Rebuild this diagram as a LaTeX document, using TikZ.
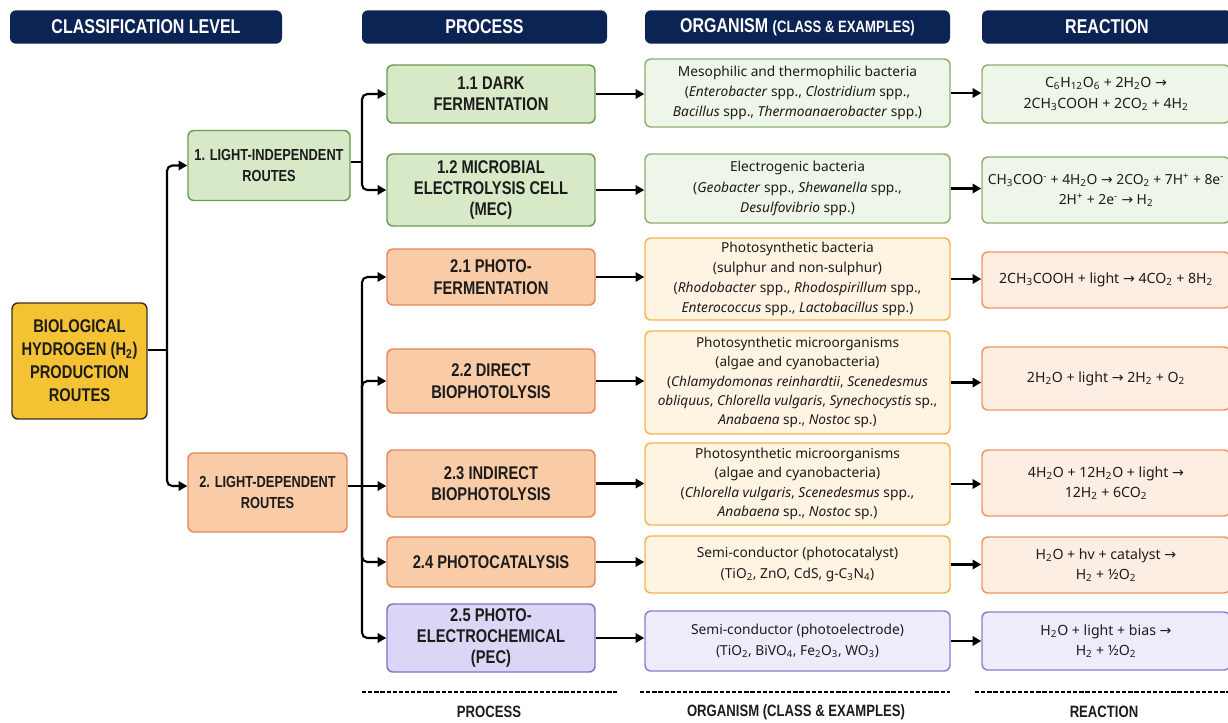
\documentclass[tikz,border=0pt]{standalone}
\usepackage{fontspec}
\setmainfont{Noto Sans}
\newfontfamily\cond[FakeStretch=0.8]{Liberation Sans}
\newfontfamily\dvfont{DejaVu Sans}
\usetikzlibrary{arrows.meta,calc}
\definecolor{navy}{HTML}{0C2454}
\definecolor{rootfill}{HTML}{F5C233}
\definecolor{rootdraw}{HTML}{3B3320}
\definecolor{pgfill}{HTML}{D7E9C6}
\definecolor{pgdraw}{HTML}{6B9A52}
\definecolor{ogfill}{HTML}{EEF5E9}
\definecolor{ogdraw}{HTML}{8DB06F}
\definecolor{pofill}{HTML}{F9CBA7}
\definecolor{podraw}{HTML}{E5855A}
\definecolor{oofill}{HTML}{FFF3E2}
\definecolor{oodraw}{HTML}{F2B54E}
\definecolor{rofill}{HTML}{FDEEE3}
\definecolor{rodraw}{HTML}{EF9461}
\definecolor{ppfill}{HTML}{DCD5F5}
\definecolor{ppdraw}{HTML}{8270C7}
\definecolor{opfill}{HTML}{EFEBFB}
\definecolor{opdraw}{HTML}{8C7DD0}
\definecolor{txt}{HTML}{1C1C1C}
\newcommand\sbs[1]{\textsubscript{#1}}
\newcommand\sps[1]{\textsuperscript{#1}}
\newcommand\ra{{\dvfont →}}
\tikzset{
  box/.style={draw, rounded corners=4.5pt, line width=1.1pt, align=center, inner sep=0pt, text=txt},
  hdr/.style={box, draw=none, fill=navy, text=white, font=\cond\bfseries\fontsize{15}{17}\selectfont, minimum height=25pt},
  lvl/.style={box, font=\cond\bfseries\fontsize{12}{16}\selectfont},
  proc/.style={box, font=\cond\bfseries\fontsize{13.8}{16}\selectfont, minimum width=156pt},
  org/.style={box, font=\fontsize{10.3}{15.2}\selectfont, minimum width=228.75pt},
  react/.style={box, font=\fontsize{10.6}{15.4}\selectfont, minimum width=186pt},
  green/.style={fill=pgfill, draw=pgdraw},
  greenl/.style={fill=ogfill, draw=ogdraw},
  orange/.style={fill=pofill, draw=podraw},
  orangeo/.style={fill=oofill, draw=oodraw},
  oranger/.style={fill=rofill, draw=rodraw},
  purple/.style={fill=ppfill, draw=ppdraw},
  purplel/.style={fill=opfill, draw=opdraw},
  line/.style={line width=1.6pt, black},
  arr/.style={line, -{Triangle[length=6.5pt,width=7pt]}},
  rc/.style={rounded corners=4pt},
  dashline/.style={line width=1.5pt, dash pattern=on 3.2pt off 1.4pt, black},
  foot/.style={font=\cond\bfseries\fontsize{12.3}{14}\selectfont, text=txt}
}
\begin{document}
\begin{tikzpicture}[x=0.75pt,y=-0.75pt]
\fill[white] (0,0) rectangle (1228,722);
\useasboundingbox (0,0) rectangle (1228,722);

% headers
\node[hdr, minimum width=204pt] (h1) at (146,27) {CLASSIFICATION LEVEL};
\node[hdr, minimum width=183.75pt] (h2) at (484.5,27) {PROCESS};
\node[hdr, minimum width=228.75pt] (h3) at (797.5,27) {ORGANISM {\fontsize{12.3}{14}\selectfont (CLASS \& EXAMPLES)}};
\node[hdr, minimum width=187.5pt] (h4) at (1107,27) {REACTION};

% level boxes
\node[lvl, fill=rootfill, draw=rootdraw, minimum width=101.25pt, minimum height=87pt, font=\cond\bfseries\fontsize{13.8}{17.3}\selectfont] (root) at (79.5,361) {BIOLOGICAL\\HYDROGEN (H\sbs{2})\\PRODUCTION\\ROUTES};
\node[lvl, green, minimum width=121.5pt, minimum height=52.5pt] (li) at (269,165.5) {1. LIGHT-INDEPENDENT\\ROUTES};
\node[lvl, orange, minimum width=119.25pt, minimum height=59.25pt] (ld) at (267.5,492.5) {2. LIGHT-DEPENDENT\\ROUTES};

% process
\node[proc, green, minimum height=43.5pt] (p11) at (491,94) {1.1 DARK\\FERMENTATION};
\node[proc, green, minimum height=54pt] (p12) at (491,190) {1.2 MICROBIAL\\ELECTROLYSIS CELL\\(MEC)};
\node[proc, orange, minimum height=42pt] (p21) at (491,277) {2.1 PHOTO-\\FERMENTATION};
\node[proc, orange, minimum height=48pt] (p22) at (491,381) {2.2 DIRECT\\BIOPHOTOLYSIS};
\node[proc, orange, minimum height=50.25pt] (p23) at (491,483.5) {2.3 INDIRECT\\BIOPHOTOLYSIS};
\node[proc, orange, minimum height=37.5pt] (p24) at (491,562) {2.4 PHOTOCATALYSIS};
\node[proc, purple, minimum height=51pt] (p25) at (491,638) {2.5 PHOTO-\\ELECTROCHEMICAL\\(PEC)};

% organisms
\node[org, greenl, minimum height=51pt] (o1) at (797.5,93) {Mesophilic and thermophilic bacteria\\(\textit{Enterobacter} spp., \textit{Clostridium} spp.,\\\textit{Bacillus} spp., \textit{Thermoanaerobacter} spp.)};
\node[org, greenl, minimum height=51.75pt] (o2) at (797.5,188.5) {Electrogenic bacteria\\(\textit{Geobacter} spp., \textit{Shewanella} spp.,\\\textit{Desulfovibrio} spp.)};
\node[org, orangeo, minimum height=61.5pt] (o3) at (797.5,279) {Photosynthetic bacteria\\(sulphur and non-sulphur)\\(\textit{Rhodobacter} spp., \textit{Rhodospirillum} spp.,\\\textit{Enterococcus} spp., \textit{Lactobacillus} spp.)};
\node[org, orangeo, minimum height=77.25pt, font=\fontsize{10.2}{14.5}\selectfont] (o4) at (797.5,382.5) {Photosynthetic microorganisms\\(algae and cyanobacteria)\\(\textit{Chlamydomonas reinhardtii}, \textit{Scenedesmus}\\\textit{obliquus}, \textit{Chlorella vulgaris}, \textit{Synechocystis} sp.,\\\textit{Anabaena} sp., \textit{Nostoc} sp.)};
\node[org, orangeo, minimum height=61.5pt, font=\fontsize{10.3}{14.6}\selectfont] (o5) at (797.5,484) {Photosynthetic microorganisms\\(algae and cyanobacteria)\\(\textit{Chlorella vulgaris}, \textit{Scenedesmus} spp.,\\\textit{Anabaena} sp., \textit{Nostoc} sp.)};
\node[org, orangeo, minimum height=42.75pt] (o6) at (797.5,564.5) {Semi-conductor (photocatalyst)\\(TiO\sbs{2}, ZnO, CdS, g-C\sbs{3}N\sbs{4})};
\node[org, purplel, minimum height=45pt] (o7) at (797.5,641) {Semi-conductor (photoelectrode)\\(TiO\sbs{2}, BiVO\sbs{4}, Fe\sbs{2}O\sbs{3}, WO\sbs{3})};

% reactions
\node[react, greenl, minimum height=43.5pt] (r1) at (1106,94) {C\sbs{6}H\sbs{12}O\sbs{6} + 2H\sbs{2}O \ra\\2CH\sbs{3}COOH + 2CO\sbs{2} + 4H\sbs{2}};
\node[react, greenl, minimum height=49.5pt, font=\fontsize{10.4}{15}\selectfont] (r2) at (1106,190) {CH\sbs{3}COO\sps{-} + 4H\sbs{2}O \ra{} 2CO\sbs{2} + 7H\sps{+} + 8e\sps{-}\\2H\sps{+} + 2e\sps{-} \ra{} H\sbs{2}};
\node[react, oranger, minimum height=42pt] (r3) at (1106,280) {2CH\sbs{3}COOH + light \ra{} 4CO\sbs{2} + 8H\sbs{2}};
\node[react, oranger, minimum height=47.25pt] (r4) at (1106,378.5) {2H\sbs{2}O + light \ra{} 2H\sbs{2} + O\sbs{2}};
\node[react, oranger, minimum height=49.5pt] (r5) at (1106,483) {4H\sbs{2}O + 12H\sbs{2}O + light \ra\\12H\sbs{2} + 6CO\sbs{2}};
\node[react, oranger, minimum height=42pt] (r6) at (1106,565) {H\sbs{2}O + hv + catalyst \ra\\H\sbs{2} + ½O\sbs{2}};
\node[react, purplel, minimum height=43.5pt] (r7) at (1106,641) {H\sbs{2}O + light + bias \ra\\H\sbs{2} + ½O\sbs{2}};

% trunk coordinates
\coordinate (t0) at (167,350);
\coordinate (t1) at (362,162);
\coordinate (t2) at (362,486);

% root to level 1
\draw[line] (root.east |- t0) -- (t0);
\draw[arr,rc] (t0) |- (li.west);
\draw[arr,rc] (t0) |- (ld.west |- t2);

% level 1 to process
\draw[line] (li.east |- t1) -- (t1);
\draw[arr,rc] (t1) |- (p11.west);
\draw[arr,rc] (t1) |- (p12.west);
\draw[arr] (ld.east |- t2) -- (t2 -| p23.west);
\draw[arr,rc] (t2) |- (p21.west);
\draw[arr,rc] (t2) |- (p22.west);
\draw[arr,rc] (t2) |- (p24.west);
\draw[arr,rc] (t2) |- (p25.west);

% process to organism
\foreach \p/\o in {p11/o1,p12/o2,p21/o3,p22/o4,p23/o5,p24/o6,p25/o7}
  \draw[arr] (\p.east) -- (\p.east -| \o.west);
% organism to reaction
\foreach \o/\r in {o1/r1,o2/r2,o3/r3,o4/r4,o5/r5,o6/r6,o7/r7}
  \draw[arr] (\o.east) -- (\o.east -| \r.west);

% footer
\draw[dashline] (362,692) -- (617,692);
\draw[dashline] (640,692) -- (950,692);
\draw[dashline] (975,692) -- (1228,692);
\node[foot] (f1) at (489,712) {PROCESS};
\node[foot] (f2) at (796,712) {ORGANISM (CLASS \& EXAMPLES)};
\node[foot] (f3) at (1104,712) {REACTION};
\end{tikzpicture}
\end{document}
